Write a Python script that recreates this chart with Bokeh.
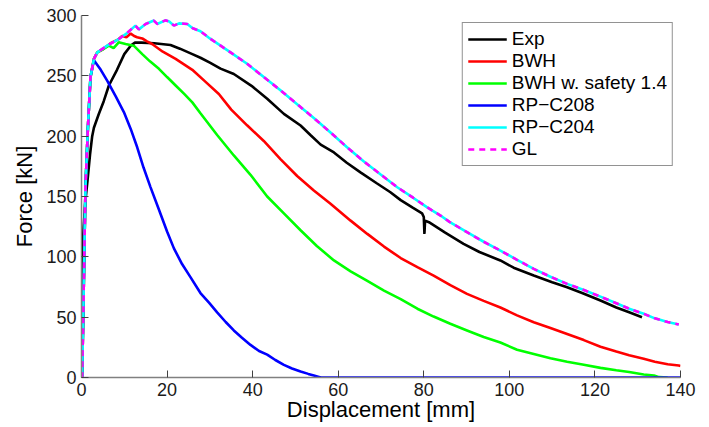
from bokeh.plotting import figure
from bokeh.models import Range1d, FixedTicker
from bokeh.embed import file_html
from bokeh.resources import INLINE

# ---------------- data ----------------
exp_x = [0, 0.15, 0.5, 0.93, 1.4, 2.0, 2.5, 2.9, 4.0, 5.2, 6.4, 8.3, 10.0, 11.5, 12.5, 14, 17, 20.8,
         23, 25.9, 27.8, 30, 32.5, 35.6, 40, 43.4, 47.3, 51.2, 53.5, 55.9, 59, 62, 65.2, 69, 72.2,
         74.6, 77.5, 79.6, 80.0, 80.15, 80.3, 81.2, 85, 89.3, 93, 97.9, 101, 105.7, 110, 113.5,
         117, 121.3, 125, 128, 131]
exp_y = [0, 97, 125, 147, 163, 185, 200, 207, 218, 229, 242, 255, 268, 275, 277.5, 277.5, 277, 275.6,
         272.5, 268, 265, 261, 256, 251.5, 241, 231, 218.5, 208.8, 201, 193, 186.5, 178, 170, 161, 153.5,
         147, 140.5, 136, 133, 119, 130, 128.7, 120, 110.8, 104, 97, 91, 84.5, 79, 74.8,
         70, 63.8, 58, 54, 50]

bwh_x = [0, 0.15, 0.5, 0.93, 1.5, 2.1, 2.9, 3.7, 5, 6.8, 8.5, 9.5, 10.5, 11.5, 12.3, 13, 14.2, 15.3,
         16.5, 19, 22, 25.9, 29, 32.1, 35, 38.7, 42.6, 46.5, 50.4, 54.3, 58.2, 62.9, 66.8, 70.7,
         74.6, 78.5, 82.3, 86.2, 90.1, 94, 97.9, 101.8, 105.7, 109.6, 113.5, 117.4, 121.3, 125,
         128, 131.4, 134, 137, 139.6, 140]
bwh_y = [0, 0, 70, 158, 207, 249, 264, 269.5, 272, 277, 280, 283, 282, 285, 283, 282, 281, 278.5,
         276.4, 270, 264, 255, 245, 235, 222, 209, 196, 181, 167, 155, 144, 130, 119, 108.5,
         99, 91.5, 84.5, 76.5, 69.3, 63.5, 58, 51.5, 45.8, 41, 36, 31, 25.5, 21.5,
         18.5, 15.5, 13, 11, 9.9, 9.5]

bwhs_x = [0, 0.15, 0.5, 0.93, 1.5, 2.1, 2.9, 3.7, 5, 6.4, 7.5, 8.7, 10.3, 12.2, 14.2, 16, 18.1, 20,
          22, 24, 25.9, 27.8, 31.7, 35.6, 39.5, 43.4, 47.3, 51.2, 55, 59, 62.9, 66.8, 70.7, 74.6,
          78.5, 82.3, 86.2, 90.1, 94, 97.9, 101.8, 105.7, 109.6, 113.5, 117.4, 121.3, 125, 128,
          131.4, 133.8, 135, 137]
bwhs_y = [0, 0, 70, 158, 207, 249, 264, 269.5, 272, 275, 273, 277.8, 276.4, 275, 268, 262, 255.8, 249,
          242, 235, 228, 219, 201, 184, 168, 150, 136, 122, 109, 97, 88, 80, 72, 65,
          57, 50.5, 44.5, 39, 33.5, 29, 23, 19.5, 16, 13, 10.5, 8, 6, 4.5,
          2.5, 1.7, 0.3, 0]

rp208_x = [0, 0.15, 0.5, 0.93, 1.5, 2.1, 2.9, 4.5, 6, 8, 9.9, 11.5, 13, 14.5, 16.1, 18, 20, 21.6,
           23.5, 25.5, 27.8, 29.8, 31.7, 33.7, 35.6, 37.5, 39.5, 41.5, 43.4, 45.3, 47.3, 49.2,
           51.2, 53, 54.3, 55.5, 56, 140]
rp208_y = [0, 0, 70, 158, 207, 249, 263, 255, 246, 233, 220, 206, 191, 174, 158, 140, 121, 107,
           94, 83, 70, 62, 54, 46, 39, 33, 27, 22, 19, 14.5, 10.5, 7.5,
           5, 3, 1.7, 0.5, 0, 0]

rp204_x = [0, 0.15, 0.5, 0.93, 1.5, 2.1, 2.9, 3.7, 6, 8.5, 10.5, 12.6, 13.4, 15, 16.9, 17.7, 19.6,
           20.5, 21.6, 22.8, 24.7, 26, 27.8, 30, 32.5, 35, 38.7, 42.6, 46.5, 50.4, 54.3, 58.2,
           62, 66, 70, 73.8, 77.5, 80.8, 84, 86, 90.1, 94, 97.9, 101.8, 105.7, 109.6, 113.5,
           117.4, 121.3, 125, 128, 131.4, 134, 137, 139.6]
rp204_y = [0, 0, 70, 158, 207, 249, 264, 269.5, 275, 280, 285, 291.6, 288.5, 293, 295.8, 293, 296,
           295, 291.6, 293.5, 293, 289.5, 287, 281, 275, 269, 260, 249, 238, 226.5, 215, 203,
           191, 179, 168, 157.7, 149, 141, 134, 129, 120.4, 112.5, 105.2, 97.5, 90, 83.5, 77.6,
           72.5, 67, 61.5, 57, 52.8, 49, 46, 43.9]

gl_x = [0, 0.15, 0.5, 0.93, 1.5, 2.1, 2.9, 3.7, 6, 8.5, 10.5, 12.6, 13.4, 15, 16.9, 17.7, 19.6,
        20.5, 21.6, 22.8, 24.7, 26, 27.8, 30, 32.5, 35, 38.7, 42.6, 46.5, 50.4, 54.3, 58.2,
        62, 66, 70, 73.8, 77.5, 80.8, 84, 86, 90.1, 94, 97.9, 101.8, 105.7, 109.6, 113.5,
        117.4, 121.3, 125, 128, 131.4, 134, 137, 139.6]
gl_y = [0, 0, 70, 158, 207, 249, 264, 269.5, 275, 280, 285, 291.6, 288.5, 293, 295.8, 293, 296,
        295, 291.6, 293.5, 293, 289.5, 287, 281, 275, 269, 260, 249, 238, 226.5, 215, 203,
        191, 179, 168, 157.7, 149, 141, 134, 129, 120.4, 112.5, 105.2, 97.5, 90, 83.5, 77.6,
        72.5, 67, 61.5, 57, 52.8, 49, 46, 43.9]

x_ticks = [0, 20, 40, 60, 80, 100, 120, 140]
y_ticks = [0, 50, 100, 150, 200, 250, 300]

FONT = "Liberation Sans"

p = figure(width=705, height=425, output_backend="svg", toolbar_location=None,
           x_range=Range1d(0, 140), y_range=Range1d(0, 300),
           min_border_left=81, min_border_right=25, min_border_top=15, min_border_bottom=48)

p.line(exp_x, exp_y, color="#000000", line_width=2.6, legend_label="Exp")
p.line(bwh_x, bwh_y, color="#ff0000", line_width=2.6, legend_label="BWH")
p.line(bwhs_x, bwhs_y, color="#00ff00", line_width=2.6, legend_label="BWH w. safety 1.4")
p.line(rp208_x, rp208_y, color="#0000ff", line_width=2.6, legend_label="RP\u2212C208")
p.line(rp204_x, rp204_y, color="#00ffff", line_width=2.6, legend_label="RP\u2212C204")
p.line(gl_x, gl_y, color="#ff00ff", line_width=2.6, line_dash="6 5", legend_label="GL")

p.grid.visible = False
p.outline_line_color = None
p.background_fill_color = "white"
p.border_fill_color = "white"

for ax in (p.xaxis[0], p.yaxis[0]):
    ax.axis_line_color = "#808080"
    ax.axis_line_width = 1.5
    ax.major_tick_line_color = "#404040"
    ax.major_tick_in = 7
    ax.major_tick_out = 0
    ax.minor_tick_line_color = None
    ax.major_label_text_font = FONT
    ax.major_label_text_font_size = "18px"
    ax.major_label_text_color = "#1a1a1a"
    ax.axis_label_text_font = FONT
    ax.axis_label_text_font_size = "22px"
    ax.axis_label_text_font_style = "normal"
    ax.axis_label_text_color = "#000000"

p.xaxis.ticker = FixedTicker(ticks=x_ticks)
p.yaxis.ticker = FixedTicker(ticks=y_ticks)
p.xaxis.axis_label = "Displacement [mm]"
p.yaxis.axis_label = "Force [kN]"
p.xaxis.major_label_standoff = 5
p.xaxis.axis_label_standoff = -2
p.yaxis.major_label_standoff = 5
p.yaxis.axis_label_standoff = 6

lg = p.legend[0]
lg.location = "top_right"
lg.margin = 7
lg.padding = 5
lg.spacing = 0
lg.glyph_width = 39
lg.glyph_height = 22
lg.label_height = 22
lg.label_standoff = 5
lg.label_text_font = FONT
lg.label_text_font_size = "19px"
lg.label_text_color = "#000000"
lg.border_line_color = "#262626"
lg.border_line_width = 1
lg.background_fill_alpha = 1.0

open("out.html", "w").write(file_html(p, INLINE))
